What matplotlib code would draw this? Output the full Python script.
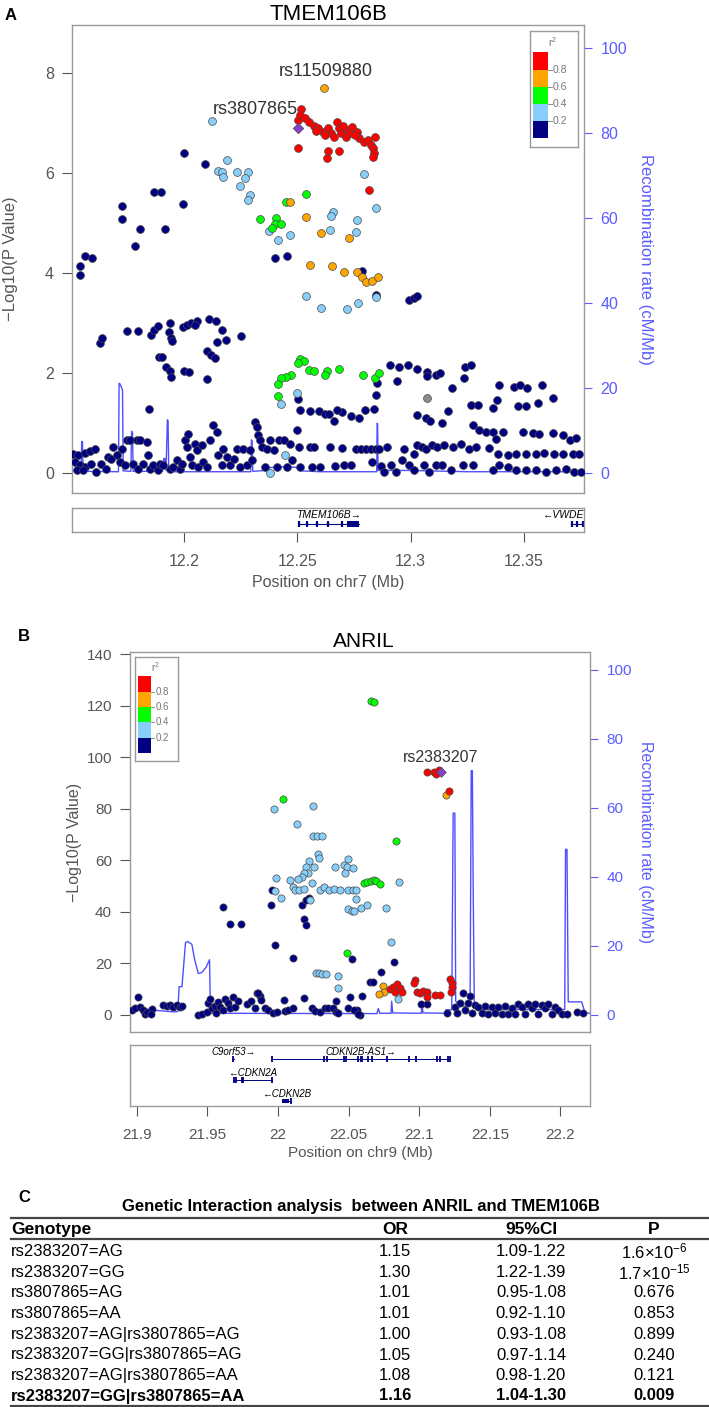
import matplotlib
matplotlib.use("Agg")
import matplotlib.pyplot as plt
from matplotlib.patches import Rectangle

plt.rcParams["font.family"] = ["Liberation Sans", "DejaVu Sans"]
plt.rcParams["mathtext.fontset"] = "custom"
plt.rcParams["mathtext.rm"] = "Liberation Sans"
plt.rcParams["mathtext.it"] = "Liberation Sans:italic"
plt.rcParams["mathtext.bf"] = "Liberation Sans:bold"

W, H = 709, 1407
GRAY = "#555555"
FRAME = "#9a9a9a"
REC = "#4f4fff"
REC_TXT = "#5c5cff"
LD_COLORS = ["#000080", "#87cefa", "#00ff00", "#ffa500", "#ff0000"]
LD_BREAKS = ["0.2", "0.4", "0.6", "0.8"]
INDEX_COLOR = "#8a3fd0"

# ---------------- panel A : TMEM106B, chr7 ----------------
a_navy = [
    (12.2000, 6.40), (12.2090, 6.19), (12.1725, 5.35), (12.1725, 5.09), (12.1869, 5.63),
    (12.1900, 5.63), (12.1996, 5.38), (12.1803, 4.89), (12.1914, 4.89), (12.1783, 4.55),
    (12.1542, 3.97), (12.1540, 4.15), (12.1562, 4.35), (12.1594, 4.31), (12.2402, 4.31),
    (12.2456, 4.35), (12.2787, 4.05), (12.2847, 3.57), (12.2994, 3.47), (12.3014, 3.51),
    (12.3028, 3.54),
    (12.1628, 2.60), (12.1638, 2.71), (12.1749, 2.85), (12.1795, 2.84), (12.1855, 2.77),
    (12.1869, 2.87), (12.1885, 2.95), (12.1936, 3.00), (12.1934, 2.82), (12.1944, 2.71),
    (12.1946, 2.64), (12.1996, 2.93), (12.2014, 2.97), (12.2030, 3.00), (12.2056, 3.05),
    (12.2046, 2.97), (12.2111, 3.09), (12.2141, 3.04), (12.2167, 2.87), (12.2147, 2.62),
    (12.2185, 2.67), (12.2251, 2.75), (12.1889, 2.33), (12.1902, 2.32), (12.1918, 2.13),
    (12.1938, 2.04), (12.1944, 1.92), (12.1998, 2.04), (12.2020, 2.03), (12.2100, 1.89),
    (12.2100, 2.44), (12.2120, 2.37), (12.2137, 2.30),
    (12.2910, 2.17), (12.2948, 2.13), (12.2990, 2.17), (12.2938, 1.85), (12.3030, 2.09),
    (12.3074, 2.03), (12.3074, 1.95), (12.3110, 1.97), (12.3130, 2.00), (12.3181, 1.71),
    (12.3235, 1.91), (12.3241, 2.12), (12.3265, 2.17), (12.3392, 1.77), (12.3456, 1.72),
    (12.3482, 1.77), (12.3512, 1.71), (12.3580, 1.77), (12.3630, 1.51), (12.2849, 1.57),
    (12.2853, 1.80),
    (12.1846, 1.28), (12.2502, 1.49), (12.2513, 1.27), (12.2557, 1.24), (12.2594, 1.24),
    (12.2623, 1.19), (12.2838, 1.28), (12.2797, 1.26), (12.2772, 1.11), (12.2735, 1.15),
    (12.2698, 1.23), (12.2661, 1.05), (12.2639, 1.19), (12.2676, 1.26), (12.3030, 1.16),
    (12.3067, 1.11), (12.3084, 1.05), (12.3137, 1.01), (12.3165, 1.25), (12.3266, 1.37),
    (12.3298, 1.37), (12.3362, 1.31), (12.3379, 1.46), (12.3472, 1.34), (12.3509, 1.34),
    (12.3561, 1.41),
    (12.1510, 0.39), (12.1532, 0.36), (12.1561, 0.41), (12.1583, 0.45), (12.1606, 0.49),
    (12.1517, 0.23), (12.1539, 0.16), (12.1561, 0.13), (12.1525, 0.06), (12.1554, 0.06),
    (12.1591, 0.19), (12.1613, 0.03), (12.1635, 0.19), (12.1657, 0.09), (12.1665, 0.33),
    (12.1687, 0.53), (12.1679, 0.29), (12.1702, 0.36), (12.1716, 0.23), (12.1724, 0.49),
    (12.1738, 0.16), (12.1746, 0.66), (12.1761, 0.66), (12.1775, 0.19), (12.1790, 0.66),
    (12.1797, 0.09), (12.1805, 0.66), (12.1834, 0.63), (12.1819, 0.19), (12.1842, 0.36),
    (12.1849, 0.09), (12.1864, 0.16), (12.1886, 0.06), (12.1893, 0.19), (12.1908, 0.16),
    (12.1937, 0.09), (12.1952, 0.13), (12.1967, 0.26), (12.1982, 0.09), (12.1989, 0.19),
    (12.2004, 0.66), (12.2011, 0.53), (12.2019, 0.79), (12.2026, 0.33), (12.2033, 0.16),
    (12.2048, 0.59), (12.2055, 0.46), (12.2063, 0.13), (12.2078, 0.56), (12.2085, 0.23),
    (12.2100, 0.13), (12.2114, 0.66), (12.2129, 0.96), (12.2144, 0.83), (12.2151, 0.36),
    (12.2166, 0.16), (12.2173, 0.49), (12.2188, 0.33), (12.2203, 0.16), (12.2218, 0.29),
    (12.2233, 0.49), (12.2247, 0.13), (12.2262, 0.49), (12.2277, 0.16), (12.2292, 0.46),
    (12.2299, 0.26), (12.2314, 1.03), (12.2321, 0.93), (12.2328, 0.76), (12.2336, 0.66),
    (12.2343, 0.53), (12.2358, 0.13), (12.2365, 0.49), (12.2380, 0.66), (12.2395, 0.46),
    (12.2410, 0.13), (12.2417, 0.66), (12.2439, 0.66), (12.2454, 0.13), (12.2469, 0.59),
    (12.2476, 0.26), (12.2498, 0.86), (12.2505, 0.53), (12.2513, 0.13), (12.2557, 0.53),
    (12.2572, 0.53), (12.2564, 0.13), (12.2601, 0.13),
    (12.2646, 0.53), (12.2698, 0.51), (12.2757, 0.49), (12.2779, 0.49), (12.2801, 0.49),
    (12.2823, 0.49), (12.2845, 0.49), (12.2860, 0.49), (12.2897, 0.53), (12.2971, 0.48),
    (12.3015, 0.39), (12.3030, 0.56), (12.3052, 0.53), (12.3067, 0.49), (12.3096, 0.56),
    (12.3118, 0.53), (12.3148, 0.56), (12.3185, 0.53), (12.3221, 0.59), (12.3258, 0.49),
    (12.3288, 0.53), (12.3347, 0.51), (12.3384, 0.39), (12.3428, 0.36), (12.3465, 0.38),
    (12.3509, 0.38), (12.3553, 0.38), (12.3590, 0.41), (12.3634, 0.39), (12.3671, 0.38),
    (12.3716, 0.38), (12.3745, 0.38),
    (12.2668, 0.14), (12.2705, 0.16), (12.2735, 0.16), (12.2831, 0.23), (12.2867, 0.14),
    (12.2882, 0.03), (12.2912, 0.16), (12.2934, 0.03), (12.2963, 0.26), (12.2993, 0.16),
    (12.3015, 0.06), (12.3059, 0.16), (12.3081, 0.03), (12.3111, 0.16), (12.3140, 0.16),
    (12.3177, 0.06), (12.3229, 0.16), (12.3273, 0.16), (12.3362, 0.06), (12.3391, 0.16),
    (12.3428, 0.13), (12.3465, 0.06), (12.3509, 0.06), (12.3553, 0.06), (12.3598, 0.03),
    (12.3642, 0.06), (12.3686, 0.09), (12.3723, 0.03), (12.3752, 0.03),
    (12.3273, 0.96), (12.3303, 0.86), (12.3332, 0.83), (12.3362, 0.83), (12.3376, 0.69),
    (12.3406, 0.83), (12.3494, 0.83), (12.3539, 0.81), (12.3568, 0.78), (12.3627, 0.81),
    (12.3671, 0.76), (12.3701, 0.66), (12.3730, 0.71),
]
a_lblue = [
    (12.2124, 7.05), (12.2191, 6.27), (12.2151, 6.05), (12.2167, 6.02), (12.2171, 5.93),
    (12.2235, 6.02), (12.2281, 6.02), (12.2267, 5.91), (12.2245, 5.75), (12.2291, 5.57),
    (12.2281, 5.47), (12.2793, 5.98), (12.2849, 5.30), (12.2657, 5.23), (12.2649, 5.15),
    (12.2763, 5.07), (12.2757, 4.83), (12.2645, 4.86), (12.2375, 4.85), (12.2416, 4.67),
    (12.2466, 4.77), (12.2538, 3.55), (12.2604, 3.31), (12.2719, 3.28), (12.2767, 3.41),
    (12.2849, 3.52), (12.2498, 1.61), (12.2429, 1.38), (12.2446, 0.37), (12.2377, 0.01),
]
a_green = [
    (12.2335, 5.09), (12.2406, 5.11), (12.2402, 4.98), (12.2426, 4.98), (12.2388, 4.90),
    (12.2448, 5.42), (12.2536, 5.59), (12.2512, 2.29), (12.2528, 2.24), (12.2502, 2.20),
    (12.2552, 2.07), (12.2572, 2.05), (12.2629, 2.05), (12.2623, 1.97), (12.2683, 2.08),
    (12.2789, 1.97), (12.2843, 1.91), (12.2859, 2.01), (12.2472, 1.97), (12.2448, 1.93),
    (12.2428, 1.90), (12.2416, 1.79), (12.2416, 1.55),
]
a_orange = [
    (12.2616, 7.71), (12.2466, 5.43), (12.2536, 5.13), (12.2602, 4.81), (12.2729, 4.71),
    (12.2556, 4.17), (12.2653, 4.14), (12.2707, 4.03), (12.2763, 4.03), (12.2783, 3.93),
    (12.2803, 3.83), (12.2829, 3.85), (12.2857, 3.92),
]
a_red = [
    (12.2516, 7.29), (12.2502, 7.07), (12.2512, 7.17), (12.2532, 7.11), (12.2552, 7.03),
    (12.2572, 6.95), (12.2592, 6.90), (12.2612, 6.83), (12.2633, 6.90), (12.2649, 6.80),
    (12.2663, 6.73), (12.2673, 7.03), (12.2683, 6.91), (12.2693, 6.80), (12.2713, 6.73),
    (12.2723, 6.87), (12.2733, 6.80), (12.2743, 6.93), (12.2763, 6.83), (12.2773, 6.70),
    (12.2793, 6.63), (12.2813, 6.67), (12.2823, 6.57), (12.2833, 6.50), (12.2843, 6.73),
    (12.2837, 6.40), (12.2833, 6.33), (12.2502, 6.51), (12.2633, 6.45), (12.2629, 6.31),
    (12.2683, 6.45), (12.2817, 5.67), (12.2700, 6.95), (12.2753, 6.76), (12.2620, 6.76),
    (12.2580, 6.85),
]
a_gray = [(12.3071, 1.51)]
a_index = (12.2502, 6.90)

a_rec_pos = [12.1505, 12.1545, 12.1548, 12.1551, 12.1554, 12.1710, 12.1713, 12.1716,
             12.1722, 12.1728, 12.1731, 12.1765, 12.1768, 12.1772, 12.1775, 12.1905,
             12.1910, 12.1915, 12.1920, 12.1926, 12.1929, 12.1932, 12.1936, 12.2294,
             12.2297, 12.2300, 12.2303, 12.2360, 12.2380, 12.2420, 12.2440, 12.2454,
             12.2470, 12.2500, 12.2520, 12.2600, 12.2850, 12.2852, 12.2854, 12.2856,
             12.3000, 12.3250, 12.3765]
a_rec_rate = [0.6, 0.6, 7.4, 7.4, 0.4, 0.3, 21.1, 21.0, 20.3, 19.5, 0.5, 0.4, 9.8, 9.5,
              0.4, 0.4, 3.4, 3.4, 0.6, 12.5, 12.3, 0.5, 0.3, 0.3, 7.8, 7.5, 0.4, 0.6,
              1.3, 1.3, 1.5, 2.0, 1.4, 1.3, 0.5, 0.3, 0.3, 11.7, 11.5, 0.6, 0.6, 0.3, 0.3]

a_xticks = [12.2, 12.25, 12.3, 12.35]
a_xticklabels = ["12.2", "12.25", "12.3", "12.35"]
a_genes = [
    # name, start, end, label, exons, thick block
    ("TMEM106B", 12.2502, 12.2773, "TMEM106B\u2192",
     [12.2508, 12.2542, 12.2586, 12.2637, 12.2697], (12.2717, 12.2773)),
    ("VWDE", 12.3707, 12.3765, "\u2190VWDE", [12.3710, 12.3735, 12.3762], None),
]

# ---------------- panel B : ANRIL, chr9 ----------------
b_navy = [
    (21.9610, 42.0), (21.9657, 35.3), (21.9738, 35.3), (21.9950, 42.8), (21.9980, 27.1),
    (21.9957, 48.5), (22.0169, 42.6), (22.0200, 44.6), (22.0216, 45.6), (22.0185, 37.1),
    (22.0195, 34.9), (22.0108, 22.0), (22.0525, 21.6), (22.0509, 7.1), (22.0410, 5.4),
    (22.0186, 6.5), (22.0044, 5.8), (21.9849, 8.4), (21.9872, 7.4), (21.9879, 5.8),
    (22.0824, 20.7), (22.0730, 16.8), (22.0652, 12.7), (22.0676, 12.7), (22.0598, 7.4),
    (22.1013, 4.3), (22.1053, 4.3), (22.0558, 2.0), (22.0581, 0.0), (22.1194, 0.9),
    (21.8965, 1.9), (21.8988, 2.6), (21.9012, 6.8), (21.9024, 3.2), (21.9047, 1.9),
    (21.9059, 0.4), (21.9071, 1.3), (21.9106, 2.2), (21.9101, 0.4), (21.9189, 3.9),
    (21.9212, 3.5), (21.9236, 3.9), (21.9259, 3.2), (21.9283, 3.9), (21.9306, 3.2),
    (21.9318, 3.5), (21.9436, 0.0), (21.9460, 0.4), (21.9495, 1.3), (21.9507, 4.5),
    (21.9519, 6.1), (21.9530, 2.6), (21.9554, 3.5), (21.9559, 0.6), (21.9578, 5.2),
    (21.9589, 3.2), (21.9613, 1.9), (21.9625, 6.1), (21.9648, 4.5), (21.9660, 2.6),
    (21.9683, 6.8), (21.9695, 3.2), (21.9719, 5.6), (21.9778, 4.3), (21.9809, 5.6),
    (21.9837, 2.6), (21.9860, 8.4), (21.9908, 2.6), (21.9931, 1.9), (21.9966, 0.9),
    (21.9990, 1.3), (22.0049, 1.7), (22.0073, 1.9), (22.0108, 2.6), (22.0238, 2.6),
    (22.0261, 1.7), (22.0297, 1.3), (22.0332, 2.6), (22.0355, 2.6), (22.0391, 2.6),
    (22.0414, 1.3), (22.0426, 0.6), (22.0497, 2.6), (22.0539, 1.9), (22.0567, 0.4),
    (22.1253, 3.2), (22.1265, 0.6), (22.1289, 4.5), (22.1312, 8.4), (22.1324, 1.9),
    (22.1348, 4.5), (22.1359, 7.4), (22.1371, 0.6), (22.1395, 3.9), (22.1418, 3.2),
    (22.1442, 0.6), (22.1465, 3.5), (22.1489, 0.4), (22.1513, 3.2), (22.1536, 0.6),
    (22.1560, 3.2), (22.1583, 0.4), (22.1607, 3.5), (22.1630, 0.4), (22.1654, 2.6),
    (22.1678, 0.4), (22.1701, 4.3), (22.1725, 3.2), (22.1748, 0.4), (22.1772, 4.3),
    (22.1795, 2.6), (22.1819, 4.3), (22.1843, 0.4), (22.1866, 3.9), (22.1890, 2.6),
    (22.1913, 4.3), (22.1937, 0.4), (22.1961, 3.2), (22.1984, 1.9), (22.2008, 0.4),
    (22.2043, 0.4), (22.2114, 1.3), (22.2161, 0.6),
]
b_lblue = [
    (21.9969, 79.8), (22.0247, 81.1), (22.0134, 74.1), (22.0247, 69.4), (22.0275, 69.4),
    (22.0310, 69.4), (22.0280, 62.4), (22.0292, 61.1), (22.0252, 57.5), (22.0216, 59.8),
    (22.0200, 57.5), (22.0209, 55.3), (22.0186, 55.2), (22.0169, 53.6), (21.9987, 53.0),
    (22.0087, 52.3), (22.0145, 52.6), (22.0105, 49.8), (22.0122, 48.5), (22.0152, 48.5),
    (22.0181, 49.1), (22.0240, 51.3), (21.9980, 48.2), (22.0023, 45.6), (22.0228, 44.8),
    (22.0299, 48.5), (22.0327, 49.8), (22.0358, 48.7), (22.0398, 49.0), (22.0440, 48.5),
    (22.0405, 57.5), (22.0468, 58.2), (22.0499, 60.4), (22.0487, 57.5), (22.0534, 56.9),
    (22.0475, 55.2), (22.0499, 48.5), (22.0530, 48.5), (22.0553, 48.5), (22.0553, 45.2),
    (22.0492, 41.0), (22.0523, 40.4), (22.0539, 40.4), (22.0586, 41.7), (22.0629, 42.6),
    (22.0763, 41.6), (22.0860, 51.6), (22.0801, 28.5), (22.0270, 16.2), (22.0290, 16.4),
    (22.0312, 15.9), (22.0340, 15.9), (22.0426, 15.3), (22.0426, 10.3), (22.0848, 6.1),
]
b_green = [
    (22.0656, 121.7), (22.0678, 121.5), (22.0035, 83.9), (22.0833, 67.6), (22.0608, 51.4),
    (22.0633, 51.6), (22.0656, 51.9), (22.0678, 52.5), (22.0691, 52.0), (22.0720, 50.7),
    (22.0486, 24.1),
]
b_orange = [(22.1186, 85.5), (22.0746, 11.3), (22.0753, 9.0), (22.0716, 8.0)]
b_red = [
    (22.1058, 94.4), (22.1106, 94.4), (22.1122, 93.7), (22.1140, 95.0), (22.1212, 86.9),
    (22.0794, 10.0), (22.0817, 11.0), (22.0841, 12.0), (22.0864, 10.3), (22.0876, 9.0),
    (22.0829, 9.0), (22.0970, 13.6), (22.0966, 12.3), (22.0982, 8.8), (22.1006, 8.4),
    (22.1029, 9.4), (22.1053, 9.0), (22.1053, 6.8), (22.1112, 7.8), (22.1147, 7.8),
    (22.1218, 13.8), (22.1234, 12.5), (22.1230, 10.7), (22.1225, 8.8),
]
b_gray = []
b_index = (22.1154, 94.3)

b_rec_pos = [21.8950, 21.9100, 21.9180, 21.9260, 21.9290, 21.9300, 21.9320, 21.9345,
             21.9360, 21.9390, 21.9410, 21.9436, 21.9460, 21.9490, 21.9515, 21.9522,
             22.0700, 22.0710, 22.0720, 22.0800, 22.0805, 22.0812, 22.1015, 22.1020,
             22.1026, 22.1180, 22.1188, 22.1230, 22.1240, 22.1252, 22.1258, 22.1280,
             22.1330, 22.1360, 22.1368, 22.1376, 22.1382, 22.1390, 22.1450, 22.2030,
             22.2036, 22.2046, 22.2055, 22.2150, 22.2175, 22.2210]
b_rec_rate = [1.4, 1.4, 1.2, 0.9, 1.0, 8.2, 8.2, 21.0, 21.3, 20.5, 16.0, 12.0, 12.3, 13.8,
              16.0, 0.5, 0.4, 1.9, 0.5, 0.5, 4.0, 0.6, 0.5, 3.8, 0.6, 0.5, 1.5, 1.5, 58.5,
              58.5, 4.0, 2.8, 2.5, 3.0, 70.8, 70.8, 36.0, 2.4, 1.6, 1.6, 48.0, 48.0, 3.8,
              3.8, 0.5, 0.5]

b_xticks = [21.9, 21.95, 22.0, 22.05, 22.1, 22.15, 22.2]
b_xticklabels = ["21.9", "21.95", "22", "22.05", "22.1", "22.15", "22.2"]
b_genes = [
    # label, start, end, exons, thick block, row
    ("C9orf53\u2192", 21.9680, 21.9685, [21.9682], None, 0),
    ("CDKN2B-AS1\u2192", 21.9955, 22.1219,
     [21.9955, 22.0325, 22.0344, 22.0469, 22.0479, 22.0566, 22.0585, 22.0598, 22.0640,
      22.0666, 22.0775, 22.0929, 22.0977, 22.1129, 22.1148, 22.1203, 22.1219], None, 0),
    ("\u2190CDKN2A", 21.9682, 21.9955, [21.9690, 21.9700, 21.9745, 21.9752, 21.9955],
     None, 1),
    ("\u2190CDKN2B", 22.0029, 22.0093, [22.0093], (22.0029, 22.0077), 2),
]

# ---------------- panel C : table ----------------
tbl_title = "Genetic Interaction analysis  between ANRIL and TMEM106B"
tbl_header = ["Genotype", "OR", "95%CI", "P"]
genotypes = ["rs2383207=AG", "rs2383207=GG", "rs3807865=AG", "rs3807865=AA",
             "rs2383207=AG|rs3807865=AG", "rs2383207=GG|rs3807865=AG",
             "rs2383207=AG|rs3807865=AA", "rs2383207=GG|rs3807865=AA"]
odds_ratios = ["1.15", "1.30", "1.01", "1.01", "1.00", "1.05", "1.08", "1.16"]
conf_int = ["1.09-1.22", "1.22-1.39", "0.95-1.08", "0.92-1.10", "0.93-1.08",
            "0.97-1.14", "0.98-1.20", "1.04-1.30"]
p_values = ["1.6\u00d710$^{-6}$", "1.7\u00d710$^{-15}$", "0.676", "0.853", "0.899",
            "0.240", "0.121", "0.009"]


def rect(l, t, r, b):
    # pixel box (left, top, right, bottom) -> figure fraction
    return [l / W, 1 - b / H, (r - l) / W, (b - t) / H]


def ptxt(x, y, s, **kw):
    fig.text(x / W, 1 - y / H, s, **kw)


def locus_panel(main_px, xlim, ylim, yticks, rec_lim, groups, gray, index, rec_pos,
                rec_rate, tick_fs, ms):
    ax = fig.add_axes(rect(*main_px))
    ax2 = ax.twinx()
    ax2.plot(rec_pos, rec_rate, color=REC, lw=1.0)
    ax2.set_ylim(rec_lim)
    ax2.set_yticks([0, 20, 40, 60, 80, 100])
    ax2.tick_params(axis="y", colors=REC_TXT, labelsize=tick_fs, length=6, pad=6)
    for sp in ax2.spines.values():
        sp.set_visible(False)
    ax.set_zorder(ax2.get_zorder() + 1)
    ax.patch.set_visible(False)

    for pts, col in zip(groups, LD_COLORS):
        xs, ys = zip(*pts)
        ax.scatter(xs, ys, s=ms, c=col, edgecolors="#4a4a4a", linewidths=0.5, zorder=3)
    if gray:
        xs, ys = zip(*gray)
        ax.scatter(xs, ys, s=ms, c="#8c8c8c", edgecolors="#4a4a4a", linewidths=0.5,
                   zorder=3)
    ax.scatter([index[0]], [index[1]], s=ms * 0.9, marker="D", c=INDEX_COLOR,
               edgecolors="#4a4a4a", linewidths=0.5, zorder=4)

    ax.set_xlim(xlim)
    ax.set_ylim(ylim)
    ax.set_xticks([])
    ax.set_yticks(yticks)
    ax.set_yticklabels([str(t) for t in yticks])
    ax.tick_params(axis="y", colors=GRAY, labelsize=tick_fs, length=7, pad=6)
    for sp in ax.spines.values():
        sp.set_color(FRAME)
        sp.set_linewidth(1.0)
    return ax


def ld_legend(px, fs):
    lx = fig.add_axes(rect(*px))
    lx.set_xlim(0, 1)
    lx.set_ylim(0, 1)
    lx.set_xticks([])
    lx.set_yticks([])
    for sp in lx.spines.values():
        sp.set_color(FRAME)
        sp.set_linewidth(1.0)
    y0, step, bx, bw = 0.075, 0.148, 0.07, 0.30
    for i, col in enumerate(LD_COLORS):
        lx.add_patch(Rectangle((bx, y0 + i * step), bw, step, facecolor=col,
                               edgecolor="none"))
    for i, lab in enumerate(LD_BREAKS):
        yy = y0 + (i + 1) * step
        lx.plot([bx + bw, bx + bw + 0.08], [yy, yy], color="#777777", lw=0.6)
        lx.text(bx + bw + 0.11, yy, lab, fontsize=fs, color="#777777", va="center")
    lx.text(0.47, 0.905, "r$^2$", fontsize=fs, color="#777777", ha="center",
            va="center")


def gene_axis(px, xlim, ticks, ticklabels, fs):
    gx = fig.add_axes(rect(*px))
    gx.set_xlim(xlim)
    gx.set_ylim(0, 1)
    gx.set_yticks([])
    gx.set_xticks(ticks)
    gx.set_xticklabels(ticklabels)
    gx.tick_params(axis="x", colors=GRAY, labelsize=fs, length=7, pad=9)
    for sp in gx.spines.values():
        sp.set_color(FRAME)
        sp.set_linewidth(1.0)
    return gx


fig = plt.figure(figsize=(W / 100, H / 100), dpi=100)

# ===== panel A =====
A_XLIM = (12.1505, 12.3765)
axA = locus_panel((72, 25, 584, 493), A_XLIM, (-0.4, 8.96), [0, 2, 4, 6, 8],
                  (-4.7, 105.3), [a_navy, a_lblue, a_green, a_orange, a_red], a_gray,
                  a_index, a_rec_pos, a_rec_rate, 11.5, 32)
axA.text(12.2623, 8.02, "rs11509880", fontsize=13, color="#333333", ha="center",
         va="center")
axA.text(12.2503, 7.26, "rs3807865", fontsize=13, color="#333333", ha="right",
         va="center")
ld_legend((530, 31, 578, 147), 7.5)
gA = gene_axis((72, 508, 584, 532), A_XLIM, a_xticks, a_xticklabels, 11.5)
for name, g0, g1, lab, exons, block in a_genes:
    gA.plot([g0, g1], [0.33, 0.33], color="#000080", lw=0.8)
    gA.vlines(exons, 0.22, 0.44, color="#000080", lw=1.6)
    if block:
        gA.add_patch(Rectangle((block[0], 0.2), block[1] - block[0], 0.26,
                               facecolor="#000080", edgecolor="none"))
    if name == "VWDE":
        gA.text(g1, 0.72, lab, fontsize=7.5, style="italic", ha="right", va="center")
    else:
        gA.text((g0 + g1) / 2, 0.72, lab, fontsize=7.5, style="italic", ha="center",
                va="center")

ptxt(5, 15, "A", fontsize=12, fontweight="bold", ha="left", va="center")
ptxt(328, 15, "TMEM106B", fontsize=16, ha="center", va="center")
ptxt(11, 259, "\u2212Log10(P Value)", fontsize=12, color=GRAY, rotation=90,
     ha="center", va="center")
ptxt(646, 259, "Recombination rate (cM/Mb)", fontsize=12, color=REC_TXT, rotation=270,
     ha="center", va="center")
ptxt(328, 582, "Position on chr7 (Mb)", fontsize=11.5, color=GRAY, ha="center",
     va="center")

# ===== panel B =====
B_XLIM = (21.8952, 22.2209)
axB = locus_panel((130, 652, 590, 1032), B_XLIM, (-6.6, 140.9),
                  [0, 20, 40, 60, 80, 100, 120, 140], (-4.93, 105.2),
                  [b_navy, b_lblue, b_green, b_orange, b_red], b_gray, b_index,
                  b_rec_pos, b_rec_rate, 11, 27)
axB.text(22.1154, 100.1, "rs2383207", fontsize=11.5, color="#333333", ha="center",
         va="center")
ld_legend((135, 657, 178, 761), 7)
gB = gene_axis((130, 1045, 590, 1106), B_XLIM, b_xticks, b_xticklabels, 11)
row_label_y = [0.885, 0.54, 0.197]
row_gene_y = [0.77, 0.426, 0.082]
for lab, g0, g1, exons, block, row in b_genes:
    gy = row_gene_y[row]
    gB.plot([g0, g1], [gy, gy], color="#000080", lw=0.7)
    gB.vlines(exons, gy - 0.045, gy + 0.045, color="#000080", lw=1.3)
    if block:
        gB.add_patch(Rectangle((block[0], gy - 0.04), block[1] - block[0], 0.08,
                               facecolor="#000080", edgecolor="none"))
    gB.text((g0 + g1) / 2, row_label_y[row], lab, fontsize=7, style="italic",
            ha="center", va="center")

ptxt(18, 636, "B", fontsize=12, fontweight="bold", ha="left", va="center")
ptxt(364, 642, "ANRIL", fontsize=15, ha="center", va="center")
ptxt(74, 842, "\u2212Log10(P Value)", fontsize=11.5, color=GRAY, rotation=90,
     ha="center", va="center")
ptxt(646, 842, "Recombination rate (cM/Mb)", fontsize=11.5, color=REC_TXT,
     rotation=270, ha="center", va="center")
ptxt(360, 1153, "Position on chr9 (Mb)", fontsize=11, color=GRAY, ha="center",
     va="center")

# ===== panel C =====
ptxt(18, 1198, "C", fontsize=12, fontweight="bold", ha="left", va="center")
ptxt(361, 1207, tbl_title, fontsize=12, fontweight="bold", ha="center", va="center")
tx = fig.add_axes([0, 0, 1, 1])
tx.set_xlim(0, W)
tx.set_ylim(H, 0)
tx.axis("off")
tx.patch.set_visible(False)
for yy in (1218.3, 1239.3, 1405.5):
    tx.plot([11, 709], [yy, yy], color="#444444", lw=1.6)

col_x = [11, 395, 531, 654]
col_ha = ["left", "center", "center", "center"]
for j, head in enumerate(tbl_header):
    tx.text(col_x[j], 1229.5, head, fontsize=12.5, fontweight="bold", ha=col_ha[j],
            va="center")
row_y = [1251.7, 1272.7, 1292.7, 1313.3, 1334.3, 1355.0, 1375.7, 1396.0]
for i, yy in enumerate(row_y):
    weight = "bold" if i == len(row_y) - 1 else "normal"
    cells = [genotypes[i], odds_ratios[i], conf_int[i], p_values[i]]
    for j, cell in enumerate(cells):
        tx.text(col_x[j], yy, cell, fontsize=12, fontweight=weight, ha=col_ha[j],
                va="center")

fig.savefig("out.png", dpi=100)
